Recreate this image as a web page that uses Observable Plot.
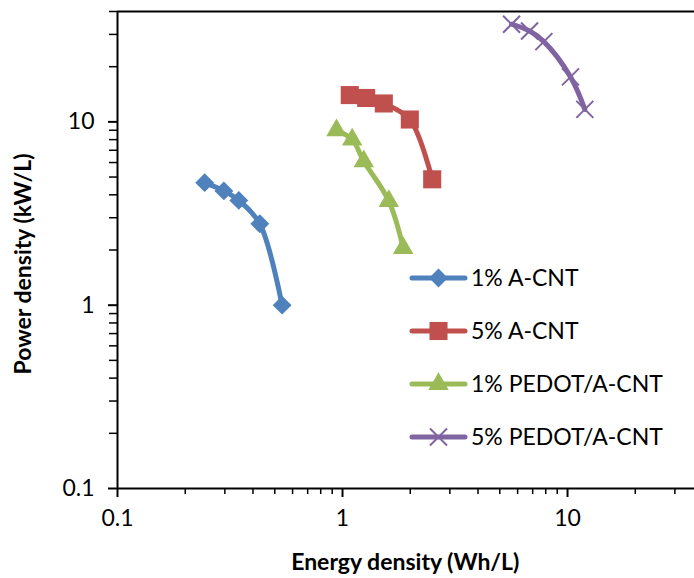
<!DOCTYPE html>
<html>
<head>
<meta charset="utf-8">
<script src="https://cdn.jsdelivr.net/npm/d3@7"></script>
<script src="https://cdn.jsdelivr.net/npm/@observablehq/plot@0.6"></script>
<style>
  html, body { margin: 0; padding: 0; background: #fff; }
  #chart { position: relative; width: 694px; height: 578px; }
</style>
</head>
<body>
<div id="chart"></div>
<script>
// Series names
const seriesNames = ["1% A-CNT", "5% A-CNT", "1% PEDOT/A-CNT", "5% PEDOT/A-CNT"];
const seriesColors = ["#4F81BD", "#C0504D", "#9BBB59", "#8064A2"];
const seriesSymbols = ["diamond2", "square", "triangle", "times"];

// Energy density (Wh/L) and power density (kW/L)
const energy1ACNT = [0.244, 0.297, 0.346, 0.429, 0.539];
const power1ACNT  = [4.66, 4.20, 3.73, 2.78, 1.00];

const energy5ACNT = [1.077, 1.274, 1.526, 1.991, 2.504];
const power5ACNT  = [14.0, 13.5, 12.6, 10.3, 4.86];

const energy1PEDOT = [0.940, 1.104, 1.243, 1.606, 1.861];
const power1PEDOT  = [9.0, 8.0, 6.1, 3.7, 2.05];

const energy5PEDOT = [5.64, 6.78, 7.85, 10.31, 11.94];
const power5PEDOT  = [34.1, 31.3, 27.4, 17.6, 11.7];

// Axis ticks
const majorTicks = [0.1, 1, 10];
const minorTicksX = [0.2,0.3,0.4,0.5,0.6,0.7,0.8,0.9,2,3,4,5,6,7,8,9,20,30,40];
const minorTicksY = [0.2,0.3,0.4,0.5,0.6,0.7,0.8,0.9,2,3,4,5,6,7,8,9,20,30,40];
const xDomain = [0.1, 40];
const yDomain = [0.1, 40];
const xTitle = "Energy density (Wh/L)";
const yTitle = "Power density (kW/L)";

const energies = [energy1ACNT, energy5ACNT, energy1PEDOT, energy5PEDOT];
const powers = [power1ACNT, power5ACNT, power1PEDOT, power5PEDOT];
const series = seriesNames.map((name, i) =>
  energies[i].map((e, j) => ({series: name, energy: e, power: powers[i][j]}))
);

const FONT = "Lato, 'Open Sans', sans-serif";
const symR = {"diamond2": 8.5, "square": 10.2, "triangle": 7.6, "times": 7.8};

const marks = [];
// frame lines
marks.push(Plot.ruleY([yDomain[1]], {stroke: "black", strokeWidth: 2}));
// minor ticks
marks.push(Plot.axisX({ticks: minorTicksX, tickSize: 6, tickFormat: () => "", label: null, strokeWidth: 1.5}));
marks.push(Plot.axisY({ticks: minorTicksY, tickSize: 8, tickFormat: () => "", label: null, strokeWidth: 1.5}));
// major ticks and labels
marks.push(Plot.axisX({ticks: majorTicks, tickSize: 9, tickPadding: 12, tickFormat: d => String(d), label: null, strokeWidth: 2, fontSize: 23}));
marks.push(Plot.axisY({ticks: majorTicks, tickSize: 9, tickPadding: 14, tickFormat: d => String(d), label: null, strokeWidth: 2, fontSize: 23}));
// axis lines
marks.push(Plot.ruleX([xDomain[0]], {stroke: "black", strokeWidth: 2}));
marks.push(Plot.ruleY([yDomain[0]], {stroke: "black", strokeWidth: 2}));

series.forEach((data, i) => {
  marks.push(Plot.line(data, {x: "energy", y: "power", stroke: seriesColors[i], strokeWidth: 5, curve: "catmull-rom", strokeLinecap: "round", strokeLinejoin: "round"}));
  const sym = seriesSymbols[i];
  if (sym === "times") {
    marks.push(Plot.dot(data, {x: "energy", y: "power", symbol: sym, r: symR[sym], stroke: seriesColors[i], strokeWidth: 2, fill: "none"}));
  } else {
    marks.push(Plot.dot(data, {x: "energy", y: "power", symbol: sym, r: symR[sym], fill: seriesColors[i], stroke: "none"}));
  }
});

// axis titles
marks.push(Plot.text([xTitle], {text: d => d, frameAnchor: "bottom", textAnchor: "middle", lineAnchor: "middle", dy: 74, dx: -5, fontSize: 23, fontWeight: "bold", fill: "black"}));
marks.push(Plot.text([yTitle], {text: d => d, frameAnchor: "left", textAnchor: "middle", lineAnchor: "middle", rotate: -90, dx: -94, dy: 14, fontSize: 23, fontWeight: "bold", fill: "black"}));

const plot = Plot.plot({
  width: 694,
  height: 578,
  marginLeft: 117,
  marginRight: -8.5,
  marginTop: 11,
  marginBottom: 90,
  style: {fontFamily: FONT, color: "black", background: "white", overflow: "hidden"},
  x: {type: "log", domain: xDomain},
  y: {type: "log", domain: yDomain},
  marks
});
document.getElementById("chart").appendChild(plot);

// Legend (inside the plot area)
const svg = d3.select(plot);
const lg = svg.append("g").attr("font-family", FONT).attr("font-size", 23).attr("text-anchor", "start");
const legendX0 = 412, legendX1 = 465, legendTop = 278, legendStep = 53;
seriesNames.forEach((name, i) => {
  const y = legendTop + i * legendStep;
  const g = lg.append("g");
  g.append("line").attr("x1", legendX0).attr("x2", legendX1).attr("y1", y).attr("y2", y)
    .attr("stroke", seriesColors[i]).attr("stroke-width", 5).attr("stroke-linecap", "round");
  const sym = seriesSymbols[i];
  const symType = {diamond2: d3.symbolDiamond2, square: d3.symbolSquare, triangle: d3.symbolTriangle, times: d3.symbolTimes}[sym];
  const size = Math.PI * symR[sym] * symR[sym];
  const p = g.append("path").attr("d", d3.symbol(symType, size)())
    .attr("transform", `translate(${(legendX0 + legendX1) / 2},${y})`);
  if (sym === "times") p.attr("fill", "none").attr("stroke", seriesColors[i]).attr("stroke-width", 2);
  else p.attr("fill", seriesColors[i]);
  g.append("text").attr("x", 471).attr("y", y).attr("dy", "0.35em").attr("fill", "black")
    .attr("text-anchor", "start").text(name);
});
</script>
</body>
</html>
